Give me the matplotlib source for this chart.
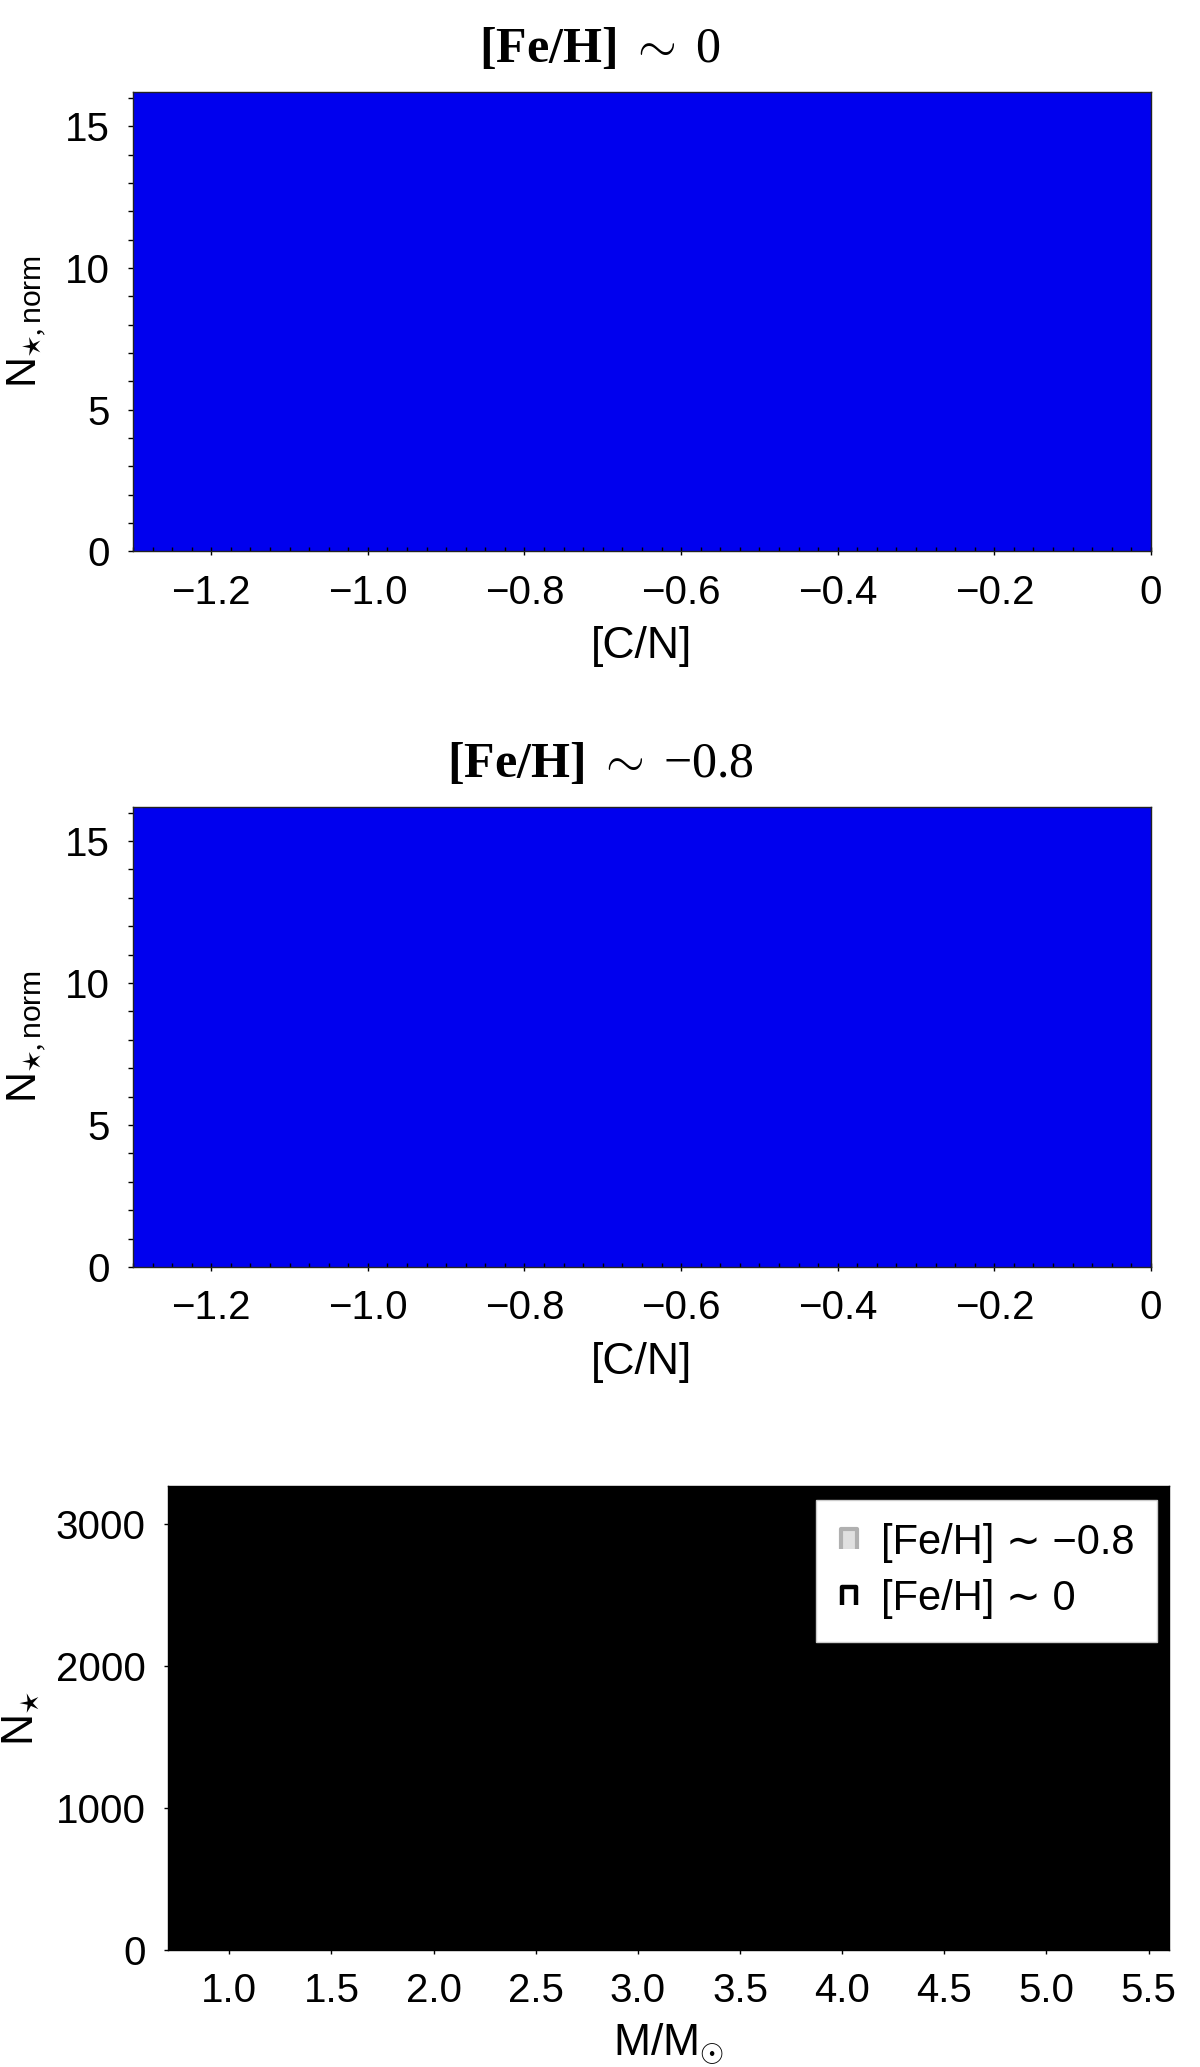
import numpy as np
import matplotlib
matplotlib.use('Agg')
import matplotlib.pyplot as plt
from matplotlib.ticker import MultipleLocator, FuncFormatter
from matplotlib.lines import Line2D
from matplotlib.path import Path

plt.rcParams['font.family'] = ['Liberation Sans', 'DejaVu Sans']
plt.rcParams['mathtext.fontset'] = 'custom'
plt.rcParams['mathtext.rm'] = 'Liberation Serif'
plt.rcParams['mathtext.bf'] = 'Liberation Serif:bold'
plt.rcParams['mathtext.it'] = 'Liberation Serif:italic'
plt.rcParams['mathtext.sf'] = 'Liberation Sans'
plt.rcParams['mathtext.fallback'] = 'cm'

# [C/N] histograms (normalised counts), every bin runs past the top of the axis
cn_edges = [-1.4, -1.3, -1.2, -1.1, -1.0, -0.9, -0.8, -0.7, -0.6, -0.5,
            -0.4, -0.3, -0.2, -0.1, 0.0, 0.1]
norm_feh0 = [18.5, 21.0, 24.3, 27.8, 30.2, 33.6, 35.1, 34.0, 31.7, 28.9,
             25.4, 22.8, 20.1, 18.9, 17.6]
norm_feh08 = [19.2, 22.7, 26.1, 29.5, 32.8, 34.9, 36.2, 33.8, 30.4, 27.3,
              24.6, 21.9, 19.8, 18.3, 17.4]

# mass histograms, also clipped by the axis
mass_edges = [0.6, 1.0, 1.4, 1.8, 2.2, 2.6, 3.0, 3.4, 3.8, 4.2, 4.6, 5.0, 5.4, 5.8]
n_feh0 = [4100, 5200, 6300, 6900, 6400, 5800, 5100, 4700, 4300, 3900, 3700, 3500, 3400]
n_feh08 = [3900, 4800, 5600, 6100, 5900, 5300, 4800, 4400, 4000, 3800, 3600, 3450, 3350]

cn_xticks = [-1.2, -1.0, -0.8, -0.6, -0.4, -0.2, 0.0]
mass_xticks = [1.0, 1.5, 2.0, 2.5, 3.0, 3.5, 4.0, 4.5, 5.0, 5.5]

blue = '#0000ee'


def cn_fmt(v, pos):
    if abs(v) < 1e-9:
        return '0'
    return ('%.1f' % v).replace('-', '\u2212')


def style_cn(ax):
    ax.set_xlim(-1.3, 0)
    ax.set_ylim(0, 16.2)
    ax.set_xticks(cn_xticks)
    ax.xaxis.set_minor_locator(MultipleLocator(0.025))
    ax.xaxis.set_major_formatter(FuncFormatter(cn_fmt))
    ax.yaxis.set_major_locator(MultipleLocator(5))
    ax.yaxis.set_minor_locator(MultipleLocator(1))
    ax.tick_params(axis='x', which='major', direction='inout', length=5.8, width=1, pad=13, labelsize=29)
    ax.tick_params(axis='x', which='minor', direction='in', length=3, width=1)
    ax.tick_params(axis='y', which='both', direction='out', length=3.6, width=1, pad=13, labelsize=29)
    for s in ax.spines.values():
        s.set_color('#222222')
        s.set_linewidth(1.0)
    ax.set_xlabel('[C/N]', fontsize=32)
    ax.xaxis.set_label_coords(0.5, -0.163)
    ax.xaxis.label.set_va('top')
    ax.set_ylabel(r'$\mathsf{N}_{\star,\mathsf{norm}}$', fontsize=31)
    ax.yaxis.set_label_coords(-0.082, 0.5)


fig = plt.figure(figsize=(12, 20.67), dpi=100)

ax1 = fig.add_axes([0.1108, 0.7332, 0.8483, 0.2221])
ax1.stairs(norm_feh0, cn_edges, fill=True, color=blue, linewidth=0)
style_cn(ax1)
fig.text(0.5, 0.9765, r'$\mathbf{[Fe/H]}\ \sim\ 0$', ha='center', va='center', fontsize=36)

ax2 = fig.add_axes([0.1108, 0.3870, 0.8483, 0.2226])
ax2.stairs(norm_feh08, cn_edges, fill=True, color=blue, linewidth=0)
style_cn(ax2)
fig.text(0.5, 0.6305, r'$\mathbf{[Fe/H]}\ \sim\ {-0.8}$', ha='center', va='center', fontsize=36)

ax3 = fig.add_axes([0.1400, 0.0566, 0.8342, 0.2245])
ax3.stairs(n_feh08, mass_edges, fill=True, color='#dddddd', linewidth=0)
ax3.stairs(n_feh0, mass_edges, fill=True, color='black', linewidth=0)
ax3.set_xlim(0.7, 5.6)
ax3.set_ylim(0, 3268)
ax3.set_xticks(mass_xticks)
ax3.yaxis.set_major_locator(MultipleLocator(1000))
ax3.tick_params(axis='both', which='major', direction='out', length=3, width=1, pad=13, labelsize=29)
for s in ax3.spines.values():
    s.set_linewidth(1.0)
ax3.set_xlabel(r'$\mathsf{M/M}_{\odot}$', fontsize=32)
ax3.xaxis.set_label_coords(0.5, -0.155)
ax3.xaxis.label.set_va('top')
ax3.set_ylabel(r'$\mathsf{N}_{\star}$', fontsize=32)
ax3.yaxis.set_label_coords(-0.125, 0.5)

# open-bottomed step symbol for the legend
pi_path = Path([(-0.4, -0.5), (-0.4, 0.5), (0.4, 0.5), (0.4, -0.5)],
               [Path.MOVETO, Path.LINETO, Path.LINETO, Path.LINETO])
handles = [
    Line2D([], [], ls='none', marker=pi_path, markersize=14, markeredgewidth=3,
           markeredgecolor='#b0b0b0', markerfacecolor='#e0e0e0'),
    Line2D([], [], ls='none', marker=pi_path, markersize=13, markeredgewidth=3.2,
           markeredgecolor='black', markerfacecolor='none'),
]
labels = ['[Fe/H] \u223c \u22120.8', '[Fe/H] \u223c 0']
leg = ax3.legend(handles, labels, loc='upper right', bbox_to_anchor=(0.988, 0.970),
                 borderaxespad=0, fontsize=30, fancybox=False, framealpha=1,
                 edgecolor='#cccccc', handlelength=0.5, handletextpad=0.5,
                 borderpad=0.55, labelspacing=0.4, numpoints=1)
leg.get_frame().set_linewidth(1.0)

fig.savefig('out.png', dpi=100)
